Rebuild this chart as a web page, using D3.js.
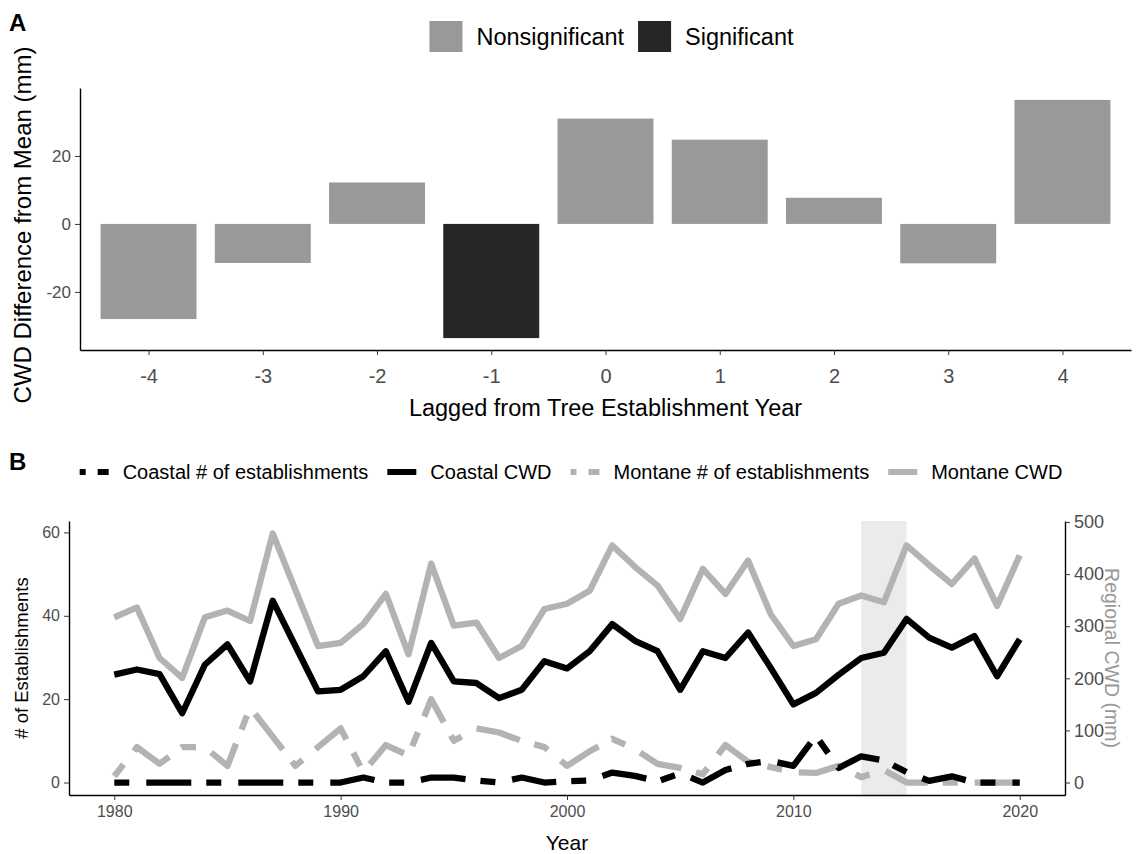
<!DOCTYPE html>
<html>
<head>
<meta charset="utf-8">
<script src="https://cdn.jsdelivr.net/npm/d3@7"></script>
<style>
  html, body { margin: 0; padding: 0; background: #fff; }
  svg { display: block; font-family: "Liberation Sans", Arial, sans-serif; }
</style>
</head>
<body>
<svg id="fig" width="1139" height="854"></svg>
<script>
// ---- Panel A: CWD anomaly by lag relative to establishment year ----
const lags = [-4, -3, -2, -1, 0, 1, 2, 3, 4];
const lagDiff = [-28.0, -11.5, 12.2, -33.6, 31.0, 24.8, 7.7, -11.6, 36.5];
const lagSig = ["Nonsignificant", "Nonsignificant", "Nonsignificant", "Significant",
                "Nonsignificant", "Nonsignificant", "Nonsignificant", "Nonsignificant", "Nonsignificant"];
const sigLevels = ["Nonsignificant", "Significant"];
const sigColors = ["#999999", "#262626"];

// ---- Panel B: yearly establishments and regional CWD ----
const years = [1980, 1981, 1982, 1983, 1984, 1985, 1986, 1987, 1988, 1989, 1990,
               1991, 1992, 1993, 1994, 1995, 1996, 1997, 1998, 1999, 2000,
               2001, 2002, 2003, 2004, 2005, 2006, 2007, 2008, 2009, 2010,
               2011, 2012, 2013, 2014, 2015, 2016, 2017, 2018, 2019, 2020];
const coastalEstab = [0, 0, 0, 0, 0, 0, 0, 0, 0, 0, 0,
                      1.2, 0, 0, 1.2, 1.2, 0.5, 0, 1.2, 0, 0.3,
                      0.5, 2.4, 1.6, 0.3, 2.2, 0, 3, 4.5, 5.2, 4,
                      11.2, 3.5, 6.3, 5.3, 2.5, 0.4, 1.5, 0, 0, 0];
const montaneEstab = [1.5, 8.5, 4.5, 8.5, 8.5, 4, 18, 11, 4, 8.5, 13,
                      2.5, 9, 6.5, 20, 10, 13, 12, 10, 8.5, 4,
                      7.5, 10.5, 8, 4.5, 3.5, 2, 9, 5, 3.7, 2.5,
                      2.3, 4, 1.3, 3, 0, 0, 0, 0, 0, 0];
// regional climatic water deficit (mm)
const coastalCWD = [207, 217, 208, 133, 226, 265, 194, 349, 262, 175, 178,
                    204, 252, 155, 268, 194, 191, 162, 178, 233, 219,
                    252, 304, 272, 252, 178, 252, 239, 288, 220, 150,
                    172, 207, 239, 249, 314, 278, 259, 281, 204, 275];
const montaneCWD = [317, 336, 239, 201, 317, 330, 310, 478, 370, 262, 268,
                    304, 362, 246, 420, 301, 307, 239, 262, 333, 343,
                    368, 455, 414, 378, 314, 410, 362, 426, 323, 262,
                    275, 343, 359, 346, 455, 417, 381, 430, 339, 436];
const cwdFactor = 8;                  // secondary axis: mm = establishments * 8
const highlightYears = [2013, 2015];
const leftTicks = [0, 20, 40, 60];
const rightTicks = [0, 100, 200, 300, 400, 500];
const yearTicks = [1980, 1990, 2000, 2010, 2020];
const seriesNames = ["Coastal # of establishments", "Coastal CWD", "Montane # of establishments", "Montane CWD"];

const svg = d3.select("#fig");
const tickCol = "#4d4d4d";
const plain = (d) => String(d);       // keep ASCII hyphen for negatives
const expand = (lo, hi, f) => { const r = hi - lo; return [lo - r * f, hi + r * f]; };

// ================= Panel A =================
const A = { left: 80, right: 1131, top: 88, bottom: 350 };
const xA = d3.scaleLinear().domain([-4.6, 4.6]).range([A.left, A.right]);
const yA = d3.scaleLinear()
  .domain(expand(d3.min(lagDiff), d3.max(lagDiff), 0.05))
  .range([A.bottom, A.top]);
const colA = d3.scaleOrdinal().domain(sigLevels).range(sigColors);
const barW = 0.84;

svg.append("g").selectAll("rect").data(lags).join("rect")
  .attr("x", (d) => xA(d - barW / 2))
  .attr("width", xA(barW) - xA(0))
  .attr("y", (d, i) => yA(Math.max(0, lagDiff[i])))
  .attr("height", (d, i) => Math.abs(yA(lagDiff[i]) - yA(0)))
  .attr("fill", (d, i) => colA(lagSig[i]));

const axAx = svg.append("g").attr("transform", `translate(0,${A.bottom})`)
  .call(d3.axisBottom(xA).tickValues(lags).tickSize(5).tickSizeOuter(0).tickPadding(14).tickFormat(plain));
const axAy = svg.append("g").attr("transform", `translate(${A.left},0)`)
  .call(d3.axisLeft(yA).tickValues([-20, 0, 20]).tickSize(5).tickSizeOuter(0).tickPadding(4).tickFormat(plain));
[axAx, axAy].forEach((g) => {
  g.select(".domain").attr("stroke", "#000").attr("stroke-width", 1.4);
  g.selectAll(".tick line").attr("stroke", "#333");
  g.selectAll(".tick text").attr("fill", tickCol).attr("font-family", "Liberation Sans, Arial, sans-serif");
});
axAx.selectAll(".tick text").attr("font-size", 20);
axAy.selectAll(".tick text").attr("font-size", 17);

svg.append("text").attr("x", (A.left + A.right) / 2).attr("y", 416)
  .attr("text-anchor", "middle").attr("font-size", 23.5).text("Lagged from Tree Establishment Year");
svg.append("text").attr("transform", `translate(31,${(A.top + A.bottom) / 2 + 6}) rotate(-90)`)
  .attr("text-anchor", "middle").attr("font-size", 24).text("CWD Difference from Mean (mm)");

// legend A
const legA = svg.append("g");
let lx = 0;
sigLevels.forEach((s, i) => {
  const g = legA.append("g").attr("transform", `translate(${lx},0)`);
  g.append("rect").attr("x", 0).attr("y", 21).attr("width", 33).attr("height", 31).attr("fill", sigColors[i]);
  const t = g.append("text").attr("x", 47).attr("y", 45).attr("font-size", 23.5).text(s);
  lx += 47 + t.node().getComputedTextLength() + 14;
});
legA.attr("transform", `translate(${(A.left + A.right) / 2 - (lx - 14) / 2 + 6},0)`);

svg.append("text").attr("x", 9).attr("y", 31).attr("font-size", 24).attr("font-weight", "bold").text("A");

// ================= Panel B =================
const B = { left: 69, right: 1065, top: 521, bottom: 795 };
const xB = d3.scaleLinear().domain(expand(d3.min(years), d3.max(years), 0.05)).range([B.left, B.right]);
const leftMax = d3.max([d3.max(montaneCWD) / cwdFactor, d3.max(coastalCWD) / cwdFactor,
                        d3.max(montaneEstab), d3.max(coastalEstab)]);
const yB = d3.scaleLinear().domain(expand(0, leftMax, 0.05)).range([B.bottom, B.top]);
const yB2 = d3.scaleLinear().domain(yB.domain().map((v) => v * cwdFactor)).range([B.bottom, B.top]);

// highlighted establishment window
svg.append("rect")
  .attr("x", xB(highlightYears[0])).attr("width", xB(highlightYears[1]) - xB(highlightYears[0]))
  .attr("y", B.top).attr("height", B.bottom - B.top)
  .attr("fill", "#ebebeb");

const dashPat = "15,17,45,15";
const series = [
  { name: seriesNames[2], vals: montaneEstab, scale: yB, color: "#b3b3b3", dash: dashPat },
  { name: seriesNames[0], vals: coastalEstab, scale: yB, color: "#000000", dash: dashPat },
  { name: seriesNames[3], vals: montaneCWD, scale: yB2, color: "#b3b3b3", dash: null },
  { name: seriesNames[1], vals: coastalCWD, scale: yB2, color: "#000000", dash: null }
];
series.forEach((s) => {
  const line = d3.line().x((d, i) => xB(years[i])).y((d) => s.scale(d));
  svg.append("path").datum(s.vals)
    .attr("d", line)
    .attr("fill", "none")
    .attr("stroke", s.color)
    .attr("stroke-width", 6.3)
    .attr("stroke-linejoin", "round")
    .attr("stroke-linecap", "butt")
    .attr("stroke-dasharray", s.dash);
});

const axBx = svg.append("g").attr("transform", `translate(0,${B.bottom})`)
  .call(d3.axisBottom(xB).tickValues(yearTicks).tickSize(5).tickSizeOuter(0).tickPadding(6).tickFormat(plain));
const axBy = svg.append("g").attr("transform", `translate(${B.left},0)`)
  .call(d3.axisLeft(yB).tickValues(leftTicks).tickSize(5).tickSizeOuter(0).tickPadding(4).tickFormat(plain));
const axBy2 = svg.append("g").attr("transform", `translate(${B.right},0)`)
  .call(d3.axisRight(yB2).tickValues(rightTicks).tickSize(5).tickSizeOuter(0).tickPadding(4).tickFormat(plain));
[axBx, axBy, axBy2].forEach((g) => {
  g.select(".domain").attr("stroke", "#000").attr("stroke-width", 1.4);
  g.selectAll(".tick line").attr("stroke", "#333");
  g.selectAll(".tick text").attr("fill", tickCol).attr("font-size", 16)
    .attr("font-family", "Liberation Sans, Arial, sans-serif");
});
axBy2.selectAll(".tick text").attr("font-size", 18);

svg.append("text").attr("x", (B.left + B.right) / 2).attr("y", 850)
  .attr("text-anchor", "middle").attr("font-size", 21).text("Year");
svg.append("text").attr("transform", `translate(28,${(B.top + B.bottom) / 2}) rotate(-90)`)
  .attr("text-anchor", "middle").attr("font-size", 18.5).text("# of Establishments");
svg.append("text").attr("transform", `translate(1105,${(B.top + B.bottom) / 2}) rotate(90)`)
  .attr("text-anchor", "middle").attr("font-size", 19.5).attr("fill", "#999999").text("Regional CWD (mm)");

// legend B
const legB = svg.append("g");
const legOrder = [
  { name: seriesNames[0], color: "#000000", dash: "6,12,12" },
  { name: seriesNames[1], color: "#000000", dash: null },
  { name: seriesNames[2], color: "#b3b3b3", dash: "6,12,12" },
  { name: seriesNames[3], color: "#b3b3b3", dash: null }
];
let bx = 0;
legOrder.forEach((s) => {
  const g = legB.append("g").attr("transform", `translate(${bx},0)`);
  g.append("line").attr("x1", 0).attr("x2", 29).attr("y1", 472).attr("y2", 472)
    .attr("stroke", s.color).attr("stroke-width", 6).attr("stroke-dasharray", s.dash);
  const t = g.append("text").attr("x", 43).attr("y", 479).attr("font-size", 20).text(s.name);
  bx += 43 + t.node().getComputedTextLength() + 19;
});
legB.attr("transform", `translate(${(B.left + B.right) / 2 - (bx - 19) / 2 + 4},0)`);

svg.append("text").attr("x", 9).attr("y", 470).attr("font-size", 24).attr("font-weight", "bold").text("B");
</script>
</body>
</html>
